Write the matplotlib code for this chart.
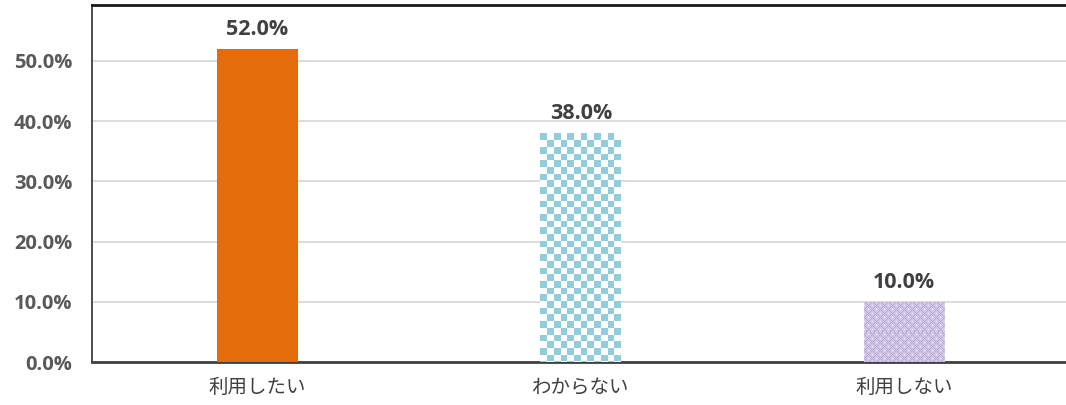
import numpy as np
import matplotlib.pyplot as plt
from matplotlib.ticker import PercentFormatter

plt.rcParams['font.family'] = ['Noto Sans CJK JP', 'DejaVu Sans']

# --- données ---
categories = ["利用したい", "わからない", "利用しない"]
valeurs = [52.0, 38.0, 10.0]

fig = plt.figure(figsize=(10.66, 4.05), dpi=100)
ax = fig.add_axes([92 / 1066, 1 - 362 / 405, 974 / 1066, 357 / 405])

x = np.arange(len(categories))
bars = ax.bar(x, valeurs, width=0.25, color=["#E46C0A", "white", "white"],
              zorder=3)
ax.set_xlim(-0.512, 2.501)
ax.set_ylim(0, 59.3)

# motifs (damier bleu, treillis violet) dessinés dans les barres, 1 pixel image = 1 pixel écran
def taille_px(barre):
    p0 = ax.transData.transform((barre.get_x(), barre.get_y()))
    p1 = ax.transData.transform((barre.get_x() + barre.get_width(), barre.get_y() + barre.get_height()))
    return int(round(abs(p1[0] - p0[0]))), int(round(abs(p1[1] - p0[1])))

def motif(barre, img):
    x0, y0 = barre.get_x(), barre.get_y()
    im = ax.imshow(img, extent=(x0, x0 + barre.get_width(), y0, y0 + barre.get_height()),
                   interpolation="nearest", aspect="auto", zorder=4, origin="upper")
    im.set_clip_path(barre)

# damier
bleu = np.array([0.573, 0.804, 0.863])
blanc = np.array([1.0, 1.0, 1.0])
w, h = taille_px(bars[1])
jj, ii = np.meshgrid(np.arange(w), np.arange(h))
cell = 6.7
damier = np.where((((jj // cell) + (ii // cell)) % 2 == 0)[..., None], bleu, blanc)
motif(bars[1], damier)

# treillis violet
violet_fonce = np.array([0.70, 0.64, 0.83])
violet = np.array([0.82, 0.78, 0.90])
violet_clair = np.array([0.95, 0.94, 0.97])
w, h = taille_px(bars[2])
jj, ii = np.meshgrid(np.arange(w), np.arange(h))
a = (ii + jj) % 8
b = (ii - jj) % 8
treillis = np.where(((a == 0) | (b == 0))[..., None], violet_fonce,
                    np.where(((a == 4) & (b == 4))[..., None], violet_clair, violet))
motif(bars[2], treillis)

# étiquettes de valeurs
for bar, v in zip(bars, valeurs):
    ax.annotate(f"{v:.1f}%", (bar.get_x() + bar.get_width() / 2, v), xytext=(0, 10),
                textcoords="offset points", ha="center", va="baseline",
                fontsize=15.5, fontweight="bold", color="#404040",
                family=["Open Sans", "DejaVu Sans"])

ax.set_xticks(x)
ax.set_xticklabels(categories, fontsize=14, color="#404040")
ax.set_yticks(np.arange(0, 51, 10))
ax.yaxis.set_major_formatter(PercentFormatter(decimals=1))
for lab in ax.get_yticklabels():
    lab.set_fontweight("bold")
    lab.set_fontsize(14.5)
    lab.set_color("#595959")
    lab.set_family(["Open Sans", "DejaVu Sans"])
ax.tick_params(axis="both", length=0)
ax.tick_params(axis="y", pad=14)
ax.tick_params(axis="x", pad=11)

ax.grid(axis="y", color="#D9D9D9", linewidth=1.3, zorder=0)
ax.spines["right"].set_visible(False)
ax.spines["top"].set_color("#1a1a1a")
ax.spines["top"].set_linewidth(2)
ax.spines["left"].set_color("#404040")
ax.spines["left"].set_linewidth(1.3)
ax.spines["bottom"].set_color("#404040")
ax.spines["bottom"].set_linewidth(2)

plt.savefig("out.png", dpi=100)
